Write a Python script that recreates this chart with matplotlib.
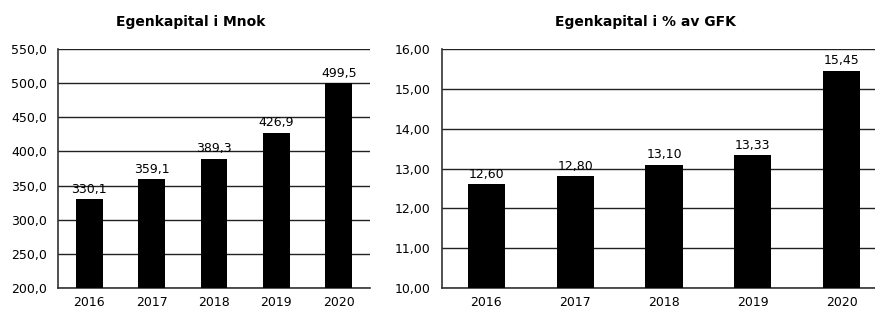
import matplotlib
matplotlib.use("Agg")
import matplotlib.pyplot as plt

years = ["2016", "2017", "2018", "2019", "2020"]
ek_mnok = [330.1, 359.1, 389.3, 426.9, 499.5]
ek_pct = [12.60, 12.80, 13.10, 13.33, 15.45]

plt.rcParams['font.family'] = ['DejaVu Sans']

W, H = 875, 309
fig = plt.figure(figsize=(W / 100, H / 100), dpi=100)

def fmt(v, d):
    return f"{v:.{d}f}".replace(".", ",")

def make(ax, vals, ymin, ymax, step, dec, width):
    x = range(len(vals))
    ax.bar(x, vals, width=width, color="black", zorder=3)
    ax.set_xlim(-0.5, len(vals) - 0.5)
    ax.set_ylim(ymin, ymax)
    ticks = []
    t = ymin
    while t <= ymax + 1e-9:
        ticks.append(t)
        t += step
    ax.set_yticks(ticks)
    ax.set_yticklabels([fmt(t, dec) for t in ticks], fontsize=9)
    ax.set_xticks(list(x))
    ax.set_xticklabels(years, fontsize=9)
    ax.tick_params(length=0, pad=8)
    ax.tick_params(axis="x", pad=6)
    ax.grid(axis="y", color="#222222", linewidth=1.0, zorder=1)
    for s in ["top", "right"]:
        ax.spines[s].set_visible(False)
    for s in ["left", "bottom"]:
        ax.spines[s].set_color("#333333")
        ax.spines[s].set_linewidth(1.2)
    for i, v in enumerate(vals):
        ax.text(i, v + (ymax - ymin) * 0.015, fmt(v, dec), ha="center", va="bottom",
                fontsize=9, zorder=4)

ax1 = fig.add_axes([58 / W, 1 - 288 / H, (370 - 58) / W, (288 - 49) / H])
make(ax1, ek_mnok, 200, 550, 50, 1, 0.43)

ax2 = fig.add_axes([442 / W, 1 - 288 / H, (886 - 442) / W, (288 - 49) / H])
make(ax2, ek_pct, 10, 16, 1, 2, 0.42)

fig.text(191 / W, 1 - 22 / H, "Egenkapital i Mnok", ha="center", va="center",
         fontsize=10, fontweight="bold")
fig.text(645 / W, 1 - 22 / H, "Egenkapital i % av GFK", ha="center", va="center",
         fontsize=10, fontweight="bold")

fig.savefig("out.png", dpi=100, facecolor="white")
